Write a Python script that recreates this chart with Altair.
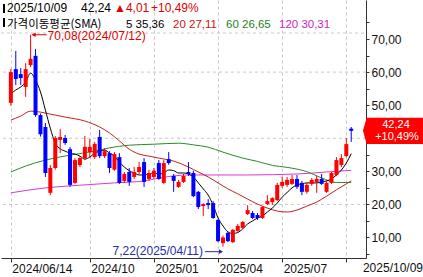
import altair as alt
import pandas as pd

# ---------------- data ----------------
opens = [50.7, 60.9, 59.4, 55.5, 62.1, 64.9, 47.0, 43.4, 23.5, 31.0,
         39.5, 40.1, 36.7, 26.5, 31.9, 34.0, 35.8, 34.3, 40.4, 34.6,
         35.5, 30.5, 34.3, 27.1, 29.8, 28.3, 29.8, 32.8, 27.7, 28.3,
         32.5, 26.5, 33.7, 28.6, 25.3, 26.8, 29.8, 29.5, 23.8, 19.5,
         20.4, 20.4, 15.3, 8.3, 11.4, 8.6, 12.0, 12.9, 17.1, 17.4,
         16.8, 15.9, 20.1, 20.7, 21.3, 25.6, 25.9, 26.2, 27.7, 26.5,
         23.8, 26.2, 26.8, 27.7, 23.8, 26.5, 28.9, 31.9, 34.6, 42.9]
highs = [61.0, 66.4, 61.2, 62.7, 70.08, 67.0, 47.5, 44.6, 31.9, 40.7,
         42.8, 41.0, 37.4, 34.0, 34.6, 40.7, 39.8, 38.9, 42.5, 37.0,
         36.1, 35.8, 35.5, 29.8, 31.0, 31.3, 32.8, 34.0, 30.5, 31.0,
         33.4, 33.4, 35.8, 29.2, 27.4, 29.2, 32.8, 30.2, 24.1, 20.4,
         21.6, 21.0, 15.6, 10.6, 11.7, 12.6, 14.1, 15.0, 19.8, 18.0,
         17.4, 19.5, 22.8, 22.2, 26.5, 28.3, 28.3, 28.9, 28.9, 27.1,
         26.5, 28.0, 28.6, 29.2, 27.1, 29.8, 34.3, 35.2, 40.1, 43.4]
lows = [49.8, 56.1, 56.1, 52.5, 61.5, 46.5, 40.5, 28.3, 22.8, 30.5,
        35.5, 38.0, 25.3, 26.2, 31.3, 33.4, 34.0, 33.7, 34.0, 34.0,
        29.5, 30.2, 26.2, 26.5, 25.6, 27.7, 29.2, 25.3, 27.1, 27.7,
        27.4, 26.2, 32.0, 23.8, 25.0, 26.5, 28.6, 22.2, 18.6, 16.5,
        18.6, 15.6, 8.6, 7.22, 8.6, 8.3, 11.7, 12.6, 16.8, 15.6,
        15.3, 15.6, 19.8, 19.8, 21.0, 25.0, 25.3, 25.9, 24.7, 22.8,
        23.2, 25.6, 23.5, 25.9, 23.5, 26.2, 28.6, 31.3, 34.3, 38.9]
closes = [60.0, 57.9, 58.2, 60.9, 64.0, 47.0, 41.2, 29.5, 31.0, 40.1,
          40.4, 38.6, 25.9, 33.4, 34.0, 37.4, 37.4, 38.3, 34.6, 36.1,
          31.0, 35.2, 26.5, 29.2, 26.8, 29.8, 31.3, 26.8, 29.5, 30.2,
          27.7, 32.5, 32.5, 27.1, 26.8, 28.6, 29.2, 22.5, 19.2, 20.1,
          19.8, 15.9, 8.9, 10.0, 8.9, 12.3, 13.5, 14.7, 18.3, 15.9,
          15.9, 19.2, 21.0, 21.9, 25.9, 26.8, 27.4, 27.7, 25.3, 23.8,
          25.9, 27.4, 27.7, 26.2, 26.5, 29.5, 33.4, 34.0, 38.23, 42.24]

ma5 = [53.4, 54.6, 55.5, 57.0, 59.7, 57.6, 54.0, 48.5, 43.0, 38.5,
       36.8, 36.1, 35.5, 35.2, 34.6, 33.7, 34.3, 35.5, 36.1, 36.4,
       35.5, 34.6, 32.8, 31.3, 30.2, 29.5, 28.9, 28.9, 29.2, 29.5,
       29.2, 29.5, 30.4, 30.2, 29.5, 29.5, 29.2, 28.3, 26.5, 24.7,
       22.8, 19.8, 15.9, 13.5, 11.7, 11.2, 11.5, 12.6, 14.1, 15.0,
       15.9, 16.5, 17.7, 18.9, 20.4, 22.2, 23.6, 25.0, 25.9, 26.2,
       26.5, 26.5, 26.5, 26.8, 27.1, 27.7, 28.9, 30.4, 32.5, 35.36]
ma20_idx = [0, 2, 4, 6, 8, 11, 15, 18, 20, 22, 24, 26, 28, 30, 33, 36, 38,
            40, 42, 44, 46, 48, 50, 52, 54, 56, 58, 60, 62, 64, 66, 68, 69]
ma20_val = [45.5, 46.7, 48.2, 47.9, 47.3, 46.4, 45.2, 43.4, 41.6, 39.2, 36.7,
            35.2, 34.6, 34.0, 33.1, 31.3, 29.8, 28.3, 26.5, 24.7, 23.2, 21.6,
            20.1, 18.9, 18.0, 17.7, 18.3, 19.5, 20.7, 22.5, 24.4, 26.2, 27.11]
ma60_idx = [0, 3, 7, 12, 17, 20, 24, 29, 34, 37, 40, 43, 47, 50, 53, 56,
            60, 63, 66, 69]
ma60_val = [29.8, 31.6, 33.4, 34.9, 36.1, 37.1, 37.9, 38.2, 38.5, 38.0, 37.3,
            35.8, 34.0, 33.0, 31.8, 31.2, 29.9, 28.0, 26.6, 26.65]
ma120_idx = [0, 7, 15, 21, 27, 31, 36, 48, 58, 64, 69]
ma120_val = [23.5, 25.0, 25.9, 26.5, 27.1, 28.2, 28.9, 28.9, 29.2, 29.8, 30.31]

ma_names = ["120", "60", "20", "5"]
ma_colors = ["#d838d8", "#2a8a2a", "#c42020", "#000000"]
header_ma_colors = ["#cc22cc", "#1f7f1f", "#d01010", "#000000"]

tick_idx = [0, 16, 29, 42, 55, 68]
tick_labels = ["2024/06/14", "2024/10", "2025/01", "2025/04", "2025/07", ""]
first_date = "2024-06-14"
last_date = "2025/10/09"
grid_vals = [20, 40, 60]
yaxis_vals = [5, 10, 15, 20, 25, 30, 35, 40, 45, 50, 55, 60, 65, 70, 75]

# ---------------- derived tables ----------------
n = len(closes)
dates = pd.date_range(first_date, periods=n, freq="7D").strftime("%Y/%m/%d").tolist()
dates[-1] = last_date
candles = pd.DataFrame({"i": list(range(n)), "open": opens, "high": highs,
                        "low": lows, "close": closes})

ma_rows = []
for name, ii, vv in [("120", ma120_idx, ma120_val), ("60", ma60_idx, ma60_val),
                     ("20", ma20_idx, ma20_val), ("5", list(range(n)), ma5)]:
    for a, b in zip(ii, vv):
        ma_rows.append({"ma": name, "i": a, "v": b})
ma_df = pd.DataFrame(ma_rows)


def kr(v):
    return f"{v:.2f}".replace(".", ",")


FONT = "Liberation Sans"
KFONT = "Noto Sans CJK KR"
HI_C = "#e00000"
LO_C = "#2a2aa8"

xscale = alt.Scale(domain=[-0.986, 70.98], nice=False, zero=False)
yscale = alt.Scale(domain=[3.80, 81.79], nice=False, zero=False)

lbl_expr = " : ".join(f"datum.value == {i} ? '{l}'" for i, l in zip(tick_idx, tick_labels)) + " : ''"
xaxis = alt.Axis(values=tick_idx, labelExpr=lbl_expr, labelAlign="left",
                 labelBaseline="top", labelPadding=1, labelOffset=1,
                 tickSize=4, tickColor="#333333", domainColor="#333333",
                 grid=True, gridDash=[3, 3], gridColor="#c8c8c8",
                 labelFont=FONT, labelFontSize=12, labelColor="#111111",
                 labelFlush=False, labelOverlap=False, labelBound=False, title=None)
# labels covered by the current-price tag are not drawn (as in the reference)
y_lbl = (f"datum.value % 10 == 0 && abs(datum.value - {closes[-1]}) > 5 ? "
         "replace(format(datum.value, '.2f'), '.', ',') : ''")
yaxis = alt.Axis(orient="right", values=yaxis_vals, labelExpr=y_lbl,
                 tickSize=3, tickColor="#333333", domainColor="#333333",
                 labelFont=FONT, labelFontSize=12, labelColor="#111111",
                 labelPadding=2, grid=False, title=None,
                 labelFlush=False, labelOverlap=False, labelBound=False)


def X(f):
    return alt.X(f, type="quantitative", scale=xscale, axis=xaxis)


def Y(f):
    return alt.Y(f, type="quantitative", scale=yscale, axis=yaxis)


updown = alt.condition("datum.close >= datum.open", alt.value("#ff0000"), alt.value("#0000ff"))

layers = []

# grid lines
layers.append(alt.Chart(pd.DataFrame({"g": grid_vals})).mark_rule(
    color="#c8c8c8", strokeDash=[3, 3], strokeWidth=1).encode(y=Y("g")))
layers.append(alt.Chart(pd.DataFrame({"k": [0]})).mark_rule(
    color="#c8c8c8", strokeDash=[3, 3], strokeWidth=1).encode(
    x=alt.value(0), x2=alt.value(365), y=alt.value(33)))

# moving averages
layers.append(alt.Chart(ma_df).mark_line(strokeWidth=1, interpolate="monotone").encode(
    x=X("i"), y=Y("v"),
    color=alt.Color("ma:N", scale=alt.Scale(domain=ma_names, range=ma_colors), legend=None)))

# candles
layers.append(alt.Chart(candles).mark_rule(strokeWidth=1).encode(
    x=X("i"), y=Y("low"), y2="high", color=updown))
layers.append(alt.Chart(candles).mark_bar(size=4).encode(
    x=X("i"), y=Y("open"), y2="close", color=updown))

# high / low annotations (arrows drawn with rules and triangles)
hi = max(range(n), key=lambda k: highs[k])
lo = min(range(n), key=lambda k: lows[k])
hi_df = pd.DataFrame({"i": [hi], "v": [highs[hi]],
                      "t": [f"{kr(highs[hi])}({dates[hi]})"]})
lo_df = pd.DataFrame({"i": [lo], "v": [lows[lo]],
                      "t": [f"{kr(lows[lo])}({dates[lo]})"]})

hb = alt.Chart(hi_df)
layers.append(hb.mark_rule(color=HI_C, strokeWidth=1, yOffset=0, y2Offset=-4).encode(
    x=X("i"), y=Y("v"), y2=alt.Y2("v")))
layers.append(hb.mark_rule(color=HI_C, strokeWidth=1, xOffset=2, x2Offset=16, yOffset=-4, y2Offset=-4).encode(
    x=X("i"), x2=alt.X2("i"), y=Y("v"), y2=alt.Y2("v")))
layers.append(hb.mark_point(shape="triangle-left", size=22, filled=True, opacity=1,
                            color=HI_C, strokeWidth=0, xOffset=3, yOffset=-4).encode(
    x=X("i"), y=Y("v")))
layers.append(hb.mark_text(font=FONT, fontSize=12, align="left", baseline="middle",
                           dx=17, dy=-3, color=HI_C).encode(x=X("i"), y=Y("v"), text="t:N"))

lb = alt.Chart(lo_df)
layers.append(lb.mark_rule(color=LO_C, strokeWidth=1, xOffset=-18, x2Offset=-2, yOffset=5, y2Offset=5).encode(
    x=X("i"), x2=alt.X2("i"), y=Y("v"), y2=alt.Y2("v")))
layers.append(lb.mark_point(shape="triangle-right", size=22, filled=True, opacity=1,
                            color=LO_C, strokeWidth=0, xOffset=-2, yOffset=5).encode(
    x=X("i"), y=Y("v")))
layers.append(lb.mark_text(font=FONT, fontSize=12, align="right", baseline="middle",
                           dx=-20, dy=4, color=LO_C).encode(x=X("i"), y=Y("v"), text="t:N"))

# current price tag
tag_path = "M -1 0 L -0.88 -0.44 L 1 -0.44 L 1 0.44 L -0.88 0.44 Z"
last_df = pd.DataFrame({"p": [closes[-1]]})
chg = closes[-1] - closes[-2]
pct = chg / closes[-2] * 100
layers.append(alt.Chart(last_df).mark_point(shape=tag_path, size=3600, filled=True,
                                            opacity=1, color="#ff0000", strokeWidth=0).encode(
    x=alt.value(392), y=Y("p")))
layers.append(alt.Chart(last_df).mark_text(text=kr(closes[-1]), font=FONT, fontSize=11,
                                           color="white", baseline="middle", dy=-6).encode(
    x=alt.value(395), y=Y("p")))
layers.append(alt.Chart(last_df).mark_text(text="+" + kr(pct) + "%", font=FONT, fontSize=11,
                                           color="white", baseline="middle", dy=6).encode(
    x=alt.value(396), y=Y("p")))

# header marker bars
for yb in [(4, 13), (18, 27)]:
    layers.append(alt.Chart(pd.DataFrame({"k": [0]})).mark_rule(
        color="#000000", strokeWidth=2).encode(
        x=alt.value(3), y=alt.value(yb[0]), y2=alt.value(yb[1])))

# header texts: (text, x, baseline y, colour, font, size)
header = [
    (last_date, 6, 12, "#000000", FONT, 12),
    (kr(closes[-1]), 80, 12, "#000000", FONT, 12),
    ("▲" + kr(chg), 113, 12, "#e00000", FONT, 12),
    ("+" + kr(pct) + "%", 150, 12, "#e00000", FONT, 12),
    ("가격이동평균(SMA)", 6, 28, "#000000", KFONT, 11.5),
    ("5 " + kr(ma5[-1]), 125, 28, header_ma_colors[3], FONT, 11.5),
    ("20 " + kr(ma20_val[-1]), 172, 28, header_ma_colors[2], FONT, 11.5),
    ("60 " + kr(ma60_val[-1]), 225, 28, header_ma_colors[1], FONT, 11.5),
    ("120 " + kr(ma120_val[-1]), 278, 28, header_ma_colors[0], FONT, 11.5),
]
for t, x, y, c, f, s in header:
    layers.append(alt.Chart(pd.DataFrame({"t": [t]})).mark_text(
        font=f, fontSize=s, align="left", baseline="alphabetic", color=c).encode(
        x=alt.value(x), y=alt.value(y), text="t:N"))

# last date label at bottom right
layers.append(alt.Chart(pd.DataFrame({"t": [last_date]})).mark_text(
    font=FONT, fontSize=12, align="right", baseline="top", color="#111111").encode(
    x=alt.value(422), y=alt.value(263), text="t:N"))

chart = alt.layer(*layers).properties(
    width=365, height=258, padding=0, background="white"
).configure_view(stroke=None)

chart.save("out.html", embed_options={"renderer": "svg", "actions": False})
